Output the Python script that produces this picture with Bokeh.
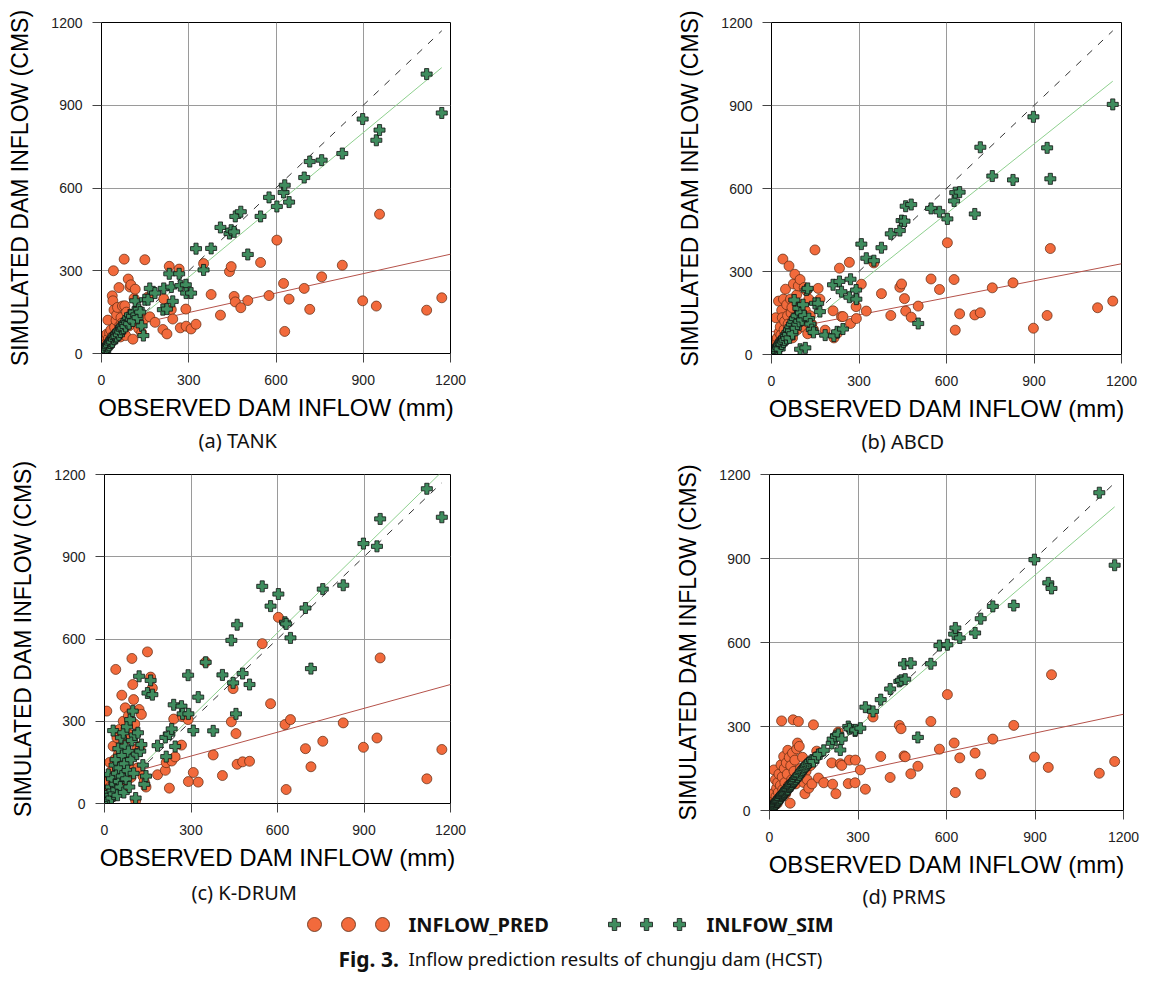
import numpy as np
from bokeh.plotting import figure
from bokeh.layouts import column, row
from bokeh.models import Range1d, FixedTicker, Title
from bokeh.embed import file_html
from bokeh.resources import INLINE
from bokeh.core.properties import value

# ---------------- data ----------------
TICKS = [0, 300, 600, 900, 1200]
PANEL_TITLES = ["(a) TANK", "(b) ABCD", "(c) K-DRUM", "(d) PRMS"]
X_LABEL = "OBSERVED DAM INFLOW (mm)"
Y_LABEL = "SIMULATED DAM INFLOW (CMS)"
SERIES_NAMES = ["INFLOW_PRED", "INLFOW_SIM"]

OBS = [5, 8, 10, 13, 15, 18, 20, 22, 24, 26,
       28, 30, 32, 35, 37, 39, 41, 43, 45, 48,
       50, 52, 55, 57, 60, 62, 65, 67, 70, 72,
       75, 78, 80, 83, 86, 89, 92, 95, 98, 101,
       105, 108, 112, 116, 120, 124, 128, 133, 138, 144,
       149, 160, 166, 184, 211, 214, 225, 233, 240, 245,
       267, 271, 290, 291, 308, 325,
       351, 377, 409, 440, 446, 456, 460, 479, 503, 547,
       576, 603, 626, 630, 645, 697, 716, 757, 828, 898,
       945, 956, 1118, 1170]

PRED_TANK = [30, 45, 22, 60, 35, 70, 28, 121, 55, 40,
             75, 50, 85, 60, 209, 191, 300, 158, 95, 70,
             120, 140, 167, 80, 239, 100, 60, 130, 110, 172,
             90, 342, 173, 65, 150, 120, 270, 100, 241, 249,
             124, 52, 200, 233, 110, 160, 90, 140, 75, 120,
             340, 205, 133, 113, 87, 198, 71, 316, 159, 125,
             306, 93, 161, 99, 89, 106,
             326, 214, 139, 297, 315, 207, 187, 166, 192, 330,
             210, 411, 254, 80, 197, 236, 160, 278, 320, 191,
             172, 505, 157, 202]
SIM_TANK = [8, 12, 15, 10, 22, 20, 28, 25, 35, 30,
            40, 38, 45, 50, 42, 55, 60, 52, 65, 58,
            70, 62, 75, 80, 68, 85, 78, 95, 88, 100,
            92, 110, 105, 98, 120, 112, 130, 108, 140, 125,
            135, 118, 150, 191, 140, 130, 160, 150, 100, 65,
            195, 195, 236, 219, 159, 236, 161, 289, 241, 189,
            289, 246, 249, 219, 219, 380,
            303, 381, 457, 435, 447, 441, 497, 514, 359, 497,
            566, 533, 584, 610, 549, 638, 696, 701, 725, 850,
            773, 810, 1013, 872]

PRED_ABCD = [20, 35, 15, 50, 133, 40, 60, 25, 193, 80,
             45, 100, 70, 160, 133, 345, 200, 90, 120, 236,
             75, 180, 140, 110, 320, 95, 200, 150, 170, 60,
             255, 130, 290, 110, 215, 90, 248, 145, 271, 180,
             120, 100, 242, 160, 230, 75, 200, 140, 110, 90,
             378, 239, 200, 88, 158, 60, 76, 312, 137, 137,
             333, 112, 173, 130, 254, 157,
             331, 220, 141, 243, 255, 202, 157, 135, 175, 273,
             235, 404, 271, 88, 147, 143, 151, 241, 259, 95,
             141, 383, 169, 193]
SIM_ABCD = [5, 10, 8, 15, 12, 22, 18, 30, 25, 35,
            20, 40, 45, 38, 50, 55, 45, 60, 52, 70,
            65, 58, 80, 72, 90, 60, 100, 85, 110, 75,
            120, 197, 130, 95, 140, 110, 167, 120, 19, 150,
            125, 180, 140, 24, 233, 239, 130, 110, 90, 80,
            185, 185, 155, 70, 252, 67, 82, 264, 227, 92,
            207, 272, 233, 200, 399, 348,
            339, 386, 436, 448, 484, 482, 536, 542, 112, 528,
            516, 490, 555, 585, 587, 508, 749, 645, 631, 859,
            747, 635, None, 904]

PRED_KDRUM = [20, 337, 40, 80, 30, 150, 60, 100, 45, 120,
              25, 209, 90, 160, 50, 489, 70, 240, 130, 179,
              112, 270, 85, 200, 395, 150, 300, 60, 230, 349,
              110, 260, 180, 320, 140, 250, 95, 529, 434, 379,
              290, 10, 200, 130, 343, 209, 325, 100, 80, 60,
              553, 461, 421, 105, 121, 149, 56, 155, 308, 170,
              213, 317, 306, 80, 113, 78,
              516, 177, 102, 298, 419, 255, 143, 152, 154, 583,
              364, 679, 288, 51, 306, 200, 134, 227, 294, 205,
              239, 531, 90, 197]
SIM_KDRUM = [10, 25, 5, 106, 40, 15, 30, 60, 20, 90,
             45, 266, 35, 140, 70, 160, 50, 110, 30, 200,
             80, 130, 60, 240, 100, 175, 258, 40, 145, 209,
             90, 280, 120, 190, 60, 306, 160, 230, 337, 110,
             250, 20, 180, 258, 464, 191, 215, 140, 70, 100,
             403, 449, 397, 211, 241, 171, 253, 272, 360, 208,
             355, 327, 468, 327, 266, 388,
             515, 265, 469, 595, 440, 327, 652, 474, 434, 792,
             720, 764, 661, 655, 604, 713, 492, 782, 796, 948,
             938, 1038, 1148, 1044]

PRED_PRMS = [20, 40, 15, 60, 145, 30, 110, 50, 80, 25,
             100, 65, 130, 45, 90, 163, 320, 120, 75, 193,
             150, 100, 60, 170, 130, 215, 90, 190, 26, 160,
             110, 205, 324, 140, 180, 95, 220, 241, 318, 229,
             150, 125, 190, 100, 60, 140, 110, 80, 160, 95,
             306, 212, 116, 99, 170, 94, 60, 280, 167, 161,
             96, 180, 99, 180, 145, 76,
             334, 193, 118, 304, 292, 195, 192, 131, 158, 318,
             219, 414, 241, 64, 188, 205, 130, 255, 304, 191,
             154, 485, 133, 175]
SIM_PRMS = [6, 10, 12, 15, 18, 22, 24, 28, 30, 32,
            35, 38, 42, 45, 44, 50, 52, 55, 58, 60,
            62, 66, 70, 74, 75, 78, 84, 85, 88, 92,
            95, 100, 102, 105, 110, 112, 118, 120, 126, 128,
            135, 140, 145, 150, 155, 160, 165, 170, 175, 180,
            175, 190, 200, 215, 240, 255, 265, 272, 216, 255,
            300, 292, 284, 288, 294, 369,
            354, 396, 434, 461, 465, 523, 469, 526, 261, 524,
            589, 592, 630, 652, 616, 634, 685, 729, 732, 896,
            813, 793, 1135, 876]

# regression lines: intercept, slope (panels a-d)
FIT_PRED_INTERCEPT = [78, 82, 86, 75]
FIT_PRED_SLOPE = [0.235, 0.205, 0.29, 0.224]
FIT_SIM_INTERCEPT = [15, 5, 5, 28]
FIT_SIM_SLOPE = [0.873, 0.84, 1.03, 0.903]

# ---------------- styling ----------------
RED = "#F26A3C"
RED_EDGE = "#5A2810"
GREEN = "#3F8C5E"
GREEN_EDGE = "#111111"
AX_FONT = "Liberation Sans"
TXT_FONT = "Noto Sans"


def f(a):
    return np.array([np.nan if v is None else v for v in a], dtype=float)


def make_panel(idx, pred, sim, fw, fh, ml, mr, mt, mb, title_off, title_gap):
    p = figure(frame_width=fw, frame_height=fh,
               x_range=Range1d(0, 1200), y_range=Range1d(0, 1200),
               min_border_left=ml, min_border_right=mr,
               min_border_top=mt, min_border_bottom=mb,
               output_backend="svg", toolbar_location=None)
    p.outline_line_color = "black"
    p.outline_line_width = 1
    p.background_fill_color = "white"
    p.border_fill_color = "white"

    for ax in (p.xaxis, p.yaxis):
        ax.ticker = FixedTicker(ticks=TICKS)
        ax.major_tick_out = 9
        ax.major_tick_in = 0
        ax.minor_tick_out = 0
        ax.minor_tick_in = 0
        ax.axis_line_color = "black"
        ax.major_tick_line_color = "#444444"
        ax.major_label_text_font = AX_FONT
        ax.major_label_text_font_size = "14px"
        ax.major_label_text_color = "#222222"
        ax.axis_label_text_font = AX_FONT
        ax.axis_label_text_font_style = "normal"
        ax.axis_label_text_color = "black"
    p.xaxis.axis_label = X_LABEL
    p.xaxis.axis_label_text_font_size = "24px"
    p.xaxis.major_label_standoff = 12
    p.xaxis.axis_label_standoff = 6
    p.yaxis.axis_label = Y_LABEL
    p.yaxis.axis_label_text_font_size = "23px"
    p.yaxis.major_label_standoff = 10
    p.yaxis.axis_label_standoff = 15

    for g in (p.xgrid, p.ygrid):
        g.ticker = FixedTicker(ticks=TICKS)
        g.grid_line_color = "#9a9a9a"
        g.grid_line_width = 1

    xmax = max(OBS)
    # 1:1 line
    p.line([0, xmax], [0, xmax], line_color="#333333", line_width=1,
           line_dash="7 8")
    # regression lines
    xr = np.array([0, 1200], dtype=float)
    p.line(xr, FIT_PRED_INTERCEPT[idx] + FIT_PRED_SLOPE[idx] * xr,
           line_color="#B5524A", line_width=1)
    xg = np.array([0, xmax], dtype=float)
    p.line(xg, FIT_SIM_INTERCEPT[idx] + FIT_SIM_SLOPE[idx] * xg,
           line_color="#8ED08E", line_width=1)

    p.scatter(f(OBS), f(pred), marker="circle", size=10,
              fill_color=RED, line_color=RED_EDGE, line_width=0.7)
    p.scatter(f(OBS), f(sim), marker="plus", size=11,
              fill_color=GREEN, line_color=GREEN_EDGE, line_width=0.8)

    # subtitle below the x axis
    p.add_layout(Title(text=PANEL_TITLES[idx], align="left", offset=title_off,
                       standoff=title_gap, text_font=TXT_FONT,
                       text_font_size="20px", text_font_style="normal",
                       text_color="#111111"),
                 "below")
    return p


pa = make_panel(0, PRED_TANK, SIM_TANK, 349, 331, 101, 131, 22, 104, 97, 2)
pb = make_panel(1, PRED_ABCD, SIM_ABCD, 350, 332, 190, 30, 22, 103, 90, 2)
pc = make_panel(2, PRED_KDRUM, SIM_KDRUM, 346, 329, 104, 125, 17, 106, 87, 6)
pd = make_panel(3, PRED_PRMS, SIM_PRMS, 354, 336, 194, 30, 15, 101, 93, 1)

# ---------------- legend + caption strip ----------------
leg = figure(width=1156, height=72, x_range=Range1d(0, 1156),
             y_range=Range1d(0, 72), x_axis_type=None, y_axis_type=None,
             min_border=0, output_backend="svg", toolbar_location=None)
leg.outline_line_color = None
leg.grid.visible = False
leg.scatter([314, 348, 382], [57, 57, 57], marker="circle", size=14,
            fill_color=RED, line_color=RED_EDGE, line_width=0.8)
leg.text([408], [57], text=[SERIES_NAMES[0]], text_font=value(TXT_FONT),
         text_font_style="bold", text_font_size="20px",
         text_baseline="middle", text_align="left", text_color="#111111")
leg.scatter([614, 646, 679], [57, 57, 57], marker="plus", size=12,
            fill_color=GREEN, line_color=GREEN_EDGE, line_width=0.8)
leg.text([706], [57], text=[SERIES_NAMES[1]], text_font=value(TXT_FONT),
         text_font_style="bold", text_font_size="20px",
         text_baseline="middle", text_align="left", text_color="#111111")
leg.text([338], [23], text=["Fig. 3."], text_font=value(TXT_FONT),
         text_font_style="bold", text_font_size="21px",
         text_baseline="middle", text_align="left", text_color="#111111")
leg.text([408], [23], text=["Inflow prediction results of chungju dam (HCST)"],
         text_font=value(TXT_FONT), text_font_size="18.5px",
         text_baseline="middle", text_align="left", text_color="#111111")

layout = column(row(pa, pb), row(pc, pd), leg)

open("out.html", "w").write(file_html(layout, INLINE))
